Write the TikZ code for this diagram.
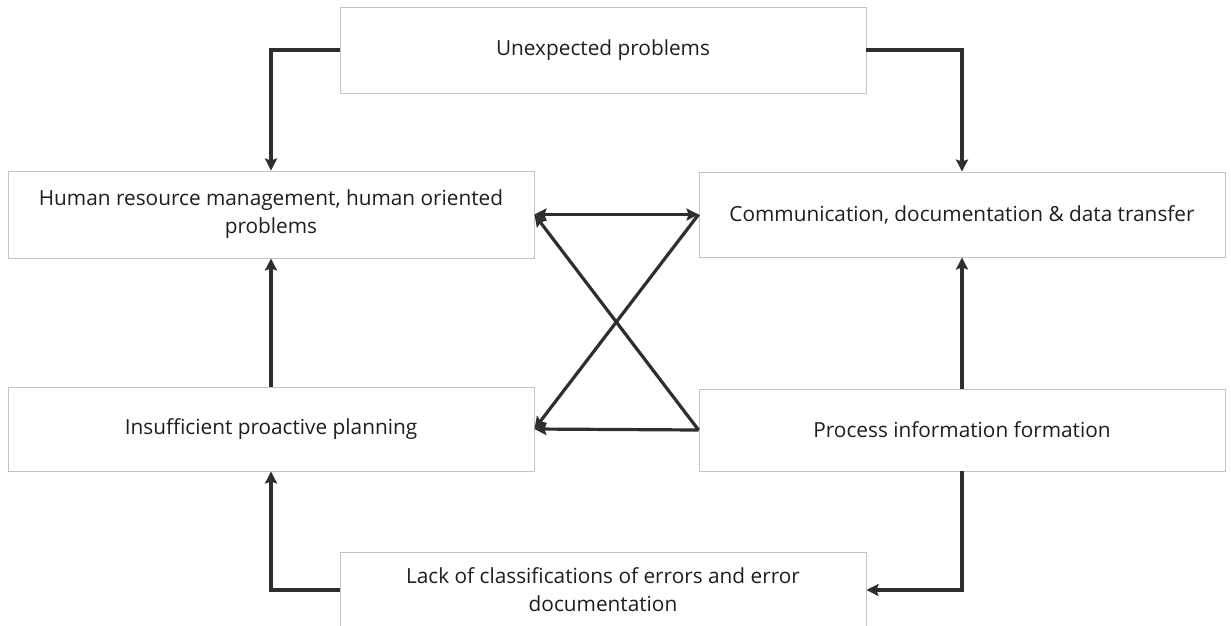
\documentclass[tikz,border=0pt]{standalone}
\usepackage{fontspec}
\setmainfont{Open Sans}
\usetikzlibrary{arrows.meta}
\definecolor{boxline}{HTML}{C4C4C4}
\definecolor{arrline}{HTML}{2E2E2E}
\definecolor{txt}{HTML}{1E1E1E}
\tikzset{
  box/.style={draw=boxline, line width=0.9pt, fill=white, minimum width=526pt,
    align=center, text=txt, inner sep=4pt,
    font=\fontsize{20.8}{28}\selectfont},
  arr/.style={draw=arrline, line width=3.2pt, -{Stealth[length=12pt,width=12pt,inset=2pt]}},
  dbl/.style={draw=arrline, line width=3.2pt,
    {Stealth[length=12pt,width=12pt,inset=2pt]}-{Stealth[length=12pt,width=12pt,inset=2pt]}},
}
\begin{document}
\begin{tikzpicture}[x=1pt,y=-1pt]
\useasboundingbox (0,0) rectangle (1231,625);

\node[box, minimum height=86pt] (U)  at (603,50)    {Unexpected problems};
\node[box, minimum height=87pt] (UL) at (271,214.5) {Human resource management, human oriented\\problems};
\node[box, minimum height=85pt] (UR) at (962,214.5) {Communication, documentation \& data transfer};
\node[box, minimum height=84pt] (LL) at (271,429)   {Insufficient proactive planning};
\node[box, minimum height=82pt] (LR) at (962,430)   {Process information formation};
\node[box, minimum height=76pt] (B)  at (603,590)   {Lack of classifications of errors and error\\documentation};

% outer loop
\draw[arr] (U.west) -| (UL.north);
\draw[arr] (U.east) -| (UR.north);
\draw[arr] (LL.north) -- (UL.south);
\draw[arr] (LR.north) -- (UR.south);
\draw[arr] (B.west) -| (LL.south);
\draw[arr] (LR.south) |- (B.east);

% cross links in the middle
\draw[dbl] (UL.east) -- (UR.west);
\draw[arr] (UR.west) -- (LL.east);
\draw[arr] (LR.west) -- (UL.east);
\draw[arr] (LR.west) -- (LL.east);
\end{tikzpicture}
\end{document}
